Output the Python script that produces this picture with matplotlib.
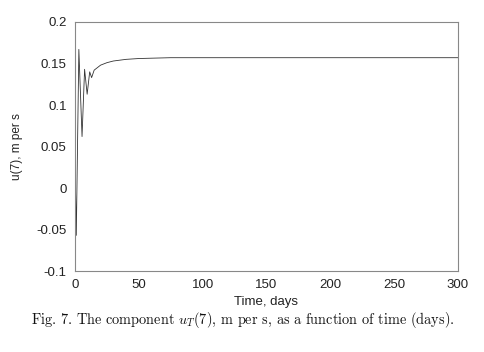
import numpy as np
import matplotlib.pyplot as plt

# values
time_days = [0, 1, 3, 5.5, 7.5, 9.5, 11.5, 13, 15, 20, 25, 30, 40, 50, 75, 100, 150, 200, 250, 300]
u_t7 = [0.035, -0.057, 0.167, 0.062, 0.143, 0.113, 0.140, 0.133, 0.142, 0.148, 0.151,
        0.153, 0.155, 0.156, 0.157, 0.157, 0.157, 0.157, 0.157, 0.157]

x_ticks = [0, 50, 100, 150, 200, 250, 300]
y_ticks = [-0.1, -0.05, 0, 0.05, 0.1, 0.15, 0.2]
y_tick_labels = ['-0.1', '-0.05', '0', '0.05', '0.1', '0.15', '0.2']

plt.rcParams['font.family'] = ['Liberation Sans', 'DejaVu Sans']
plt.rcParams['mathtext.fontset'] = 'cm'

fig = plt.figure(figsize=(4.84, 3.52), dpi=100)
ax = fig.add_axes([0.155, 0.23, 0.791, 0.7075])

ax.plot(time_days, u_t7, color='#333333', linewidth=0.6)

ax.set_xlim(0, 300)
ax.set_ylim(-0.1, 0.2)
ax.set_xticks(x_ticks)
ax.set_xticklabels([str(t) for t in x_ticks])
ax.set_yticks(y_ticks)
ax.set_yticklabels(y_tick_labels)
ax.tick_params(length=0, labelsize=9.5, colors='#222222', pad=6)
for s in ax.spines.values():
    s.set_color('#888888')
    s.set_linewidth(0.8)

ax.set_xlabel('Time, days', fontsize=9.5, color='#222222', labelpad=3)
ax.set_ylabel('u(7), m per s', fontsize=8.5, color='#222222', labelpad=10)

# caption under the chart
fig.text(0.501, 1 - 320 / 352, r'Fig. 7. The component $u_T(7)$, m per s, as a function of time (days).',
         ha='center', va='center', fontsize=10.3, family=['cmr10', 'DejaVu Serif'], color='#111111')

fig.savefig('out.png', dpi=100, facecolor='white')
